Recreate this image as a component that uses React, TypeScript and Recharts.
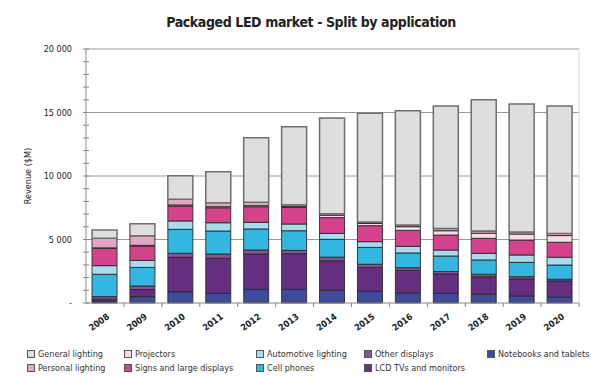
import { Bar, BarChart, CartesianGrid, XAxis, YAxis } from "recharts";

const years = ["2008", "2009", "2010", "2011", "2012", "2013", "2014", "2015", "2016", "2017", "2018", "2019", "2020"];

// revenue in $M (bottom to top)
const notebooks = [150, 500, 890, 760, 1080, 1080, 1000, 920, 800, 760, 690, 560, 480];
const lcdTvs = [150, 560, 2710, 2760, 2780, 2800, 2330, 1890, 1760, 1540, 1380, 1330, 1260];
const otherDisplays = [200, 280, 310, 340, 310, 260, 280, 240, 220, 180, 190, 180, 130];
const cellPhones = [1760, 1460, 1890, 1810, 1660, 1550, 1400, 1330, 1160, 1220, 1130, 1130, 1120];
const automotive = [680, 550, 660, 650, 520, 530, 470, 450, 520, 470, 520, 580, 610];
const signs = [1370, 1140, 1180, 1180, 1230, 1300, 1240, 1260, 1260, 1180, 1180, 1180, 1180];
const projectors = [30, 50, 80, 80, 80, 80, 190, 170, 290, 340, 400, 470, 530];
const personal = [750, 750, 450, 320, 270, 140, 120, 120, 130, 170, 170, 170, 170];
const general = [660, 960, 1850, 2440, 5090, 6140, 7530, 8560, 8990, 9660, 10350, 10070, 10030];

const yTicks = [0, 1000, 2000, 3000, 4000, 5000, 6000, 7000, 8000, 9000, 10000, 11000, 12000, 13000, 14000, 15000, 16000, 17000, 18000, 19000, 20000];
const gridValues = [5000, 10000, 15000, 20000];

const series = [
  { key: "notebooks", name: "Notebooks and tablets", color: "#3e4b9b", values: notebooks },
  { key: "lcd", name: "LCD TVs and monitors", color: "#652e7f", values: lcdTvs },
  { key: "other", name: "Other displays", color: "#875596", values: otherDisplays },
  { key: "cell", name: "Cell phones", color: "#33b6e0", values: cellPhones },
  { key: "auto", name: "Automotive lighting", color: "#a8dbee", values: automotive },
  { key: "signs", name: "Signs and large displays", color: "#d4438b", values: signs },
  { key: "projectors", name: "Projectors", color: "#f9dce9", values: projectors },
  { key: "personal", name: "Personal lighting", color: "#e2a5c6", values: personal },
  { key: "general", name: "General lighting", color: "#dedede", values: general },
];

const data = years.map((year, i) => {
  const row: Record<string, string | number> = { year };
  series.forEach((s) => {
    row[s.key] = s.values[i];
  });
  return row;
});

const font = "'DejaVu Sans Condensed', 'DejaVu Sans', sans-serif";

const fmt = (v: number) => (v === 0 ? "-" : v.toString().replace(/\B(?=(\d{3})+(?!\d))/g, " "));

const YTick = (props: any) => {
  const { x, y, payload } = props;
  const v = payload.value as number;
  const major = v % 5000 === 0;
  return (
    <g>
      <line x1={x - 3} x2={x + 3} y1={y} y2={y} stroke="#888" />
      {major && (
        <text x={x - 14} y={y} dy={3} textAnchor="end" fontSize={9} fontFamily={font} fill="#222">
          {fmt(v)}
        </text>
      )}
    </g>
  );
};

const XTick = (props: any) => {
  const { x, y, payload } = props;
  return (
    <g>
      <line x1={x + 19} x2={x + 19} y1={y} y2={y + 4} stroke="#888" />
      <text
        transform={`translate(${x + 5},${y + 15}) rotate(-36)`}
        textAnchor="end"
        fontSize={9}
        fontWeight="bold"
        fontFamily={font}
        fill="#222"
      >
        {payload.value}
      </text>
    </g>
  );
};

export default function App() {
  const legendItems = [...series].reverse();
  return (
    <div style={{ position: "absolute", left: 0, top: 0, width: 594, height: 377, background: "#fff" }}>
      <div
        style={{
          position: "absolute",
          left: 0,
          width: 622,
          top: 14,
          textAlign: "center",
          fontFamily: font,
          fontWeight: "bold",
          fontSize: 14,
          letterSpacing: -0.4,
          color: "#222",
        }}
      >
        Packaged LED market - Split by application
      </div>
      <BarChart width={594} height={377} data={data} margin={{ top: 49, right: 0, bottom: 0, left: 0 }} barSize={25}>
        <CartesianGrid horizontal vertical={false} horizontalValues={gridValues} stroke="#9a9a9a" />
        <XAxis
          dataKey="year"
          interval={0}
          height={74}
          tickSize={0}
          tickMargin={0}
          tickLine={false}
          axisLine={{ stroke: "#888" }}
          tick={<XTick />}
        />
        <YAxis
          domain={[0, 20000]}
          ticks={yTicks}
          interval={0}
          width={86}
          tickSize={0}
          tickMargin={0}
          tickLine={false}
          axisLine={{ stroke: "#888" }}
          tick={<YTick />}
          label={{
            value: "Revenue ($M)",
            angle: -90,
            position: "center",
            dx: -15,
            fontSize: 9,
            fontFamily: font,
            fill: "#222",
          }}
        />
        <YAxis yAxisId="right" orientation="right" width={15} tick={false} tickLine={false} axisLine={{ stroke: "#d8d8d8" }} />
        {series.map((s) => (
          <Bar
            key={s.key}
            dataKey={s.key}
            name={s.name}
            stackId="a"
            fill={s.color}
            stroke={s.key === "general" ? "#6e6e6e" : "#2a2a2a"}
            strokeWidth={s.key === "general" ? 1.5 : 0.9}
            isAnimationActive={false}
          />
        ))}
      </BarChart>
      <div
        style={{
          position: "absolute",
          left: 27,
          top: 347,
          display: "grid",
          gridTemplateRows: "14px 14px",
          gridAutoFlow: "column",
          gridTemplateColumns: "97px 132px 108px 123px auto",
          fontFamily: font,
          fontSize: 9,
          color: "#333",
        }}
      >
        {legendItems.map((s) => (
          <div key={s.key} style={{ display: "flex", alignItems: "center", whiteSpace: "nowrap" }}>
            <span
              style={{
                display: "inline-block",
                width: 6,
                height: 6,
                border: "1px solid #555",
                background: s.color,
                marginRight: 3,
              }}
            />
            {s.name}
          </div>
        ))}
      </div>
    </div>
  );
}
